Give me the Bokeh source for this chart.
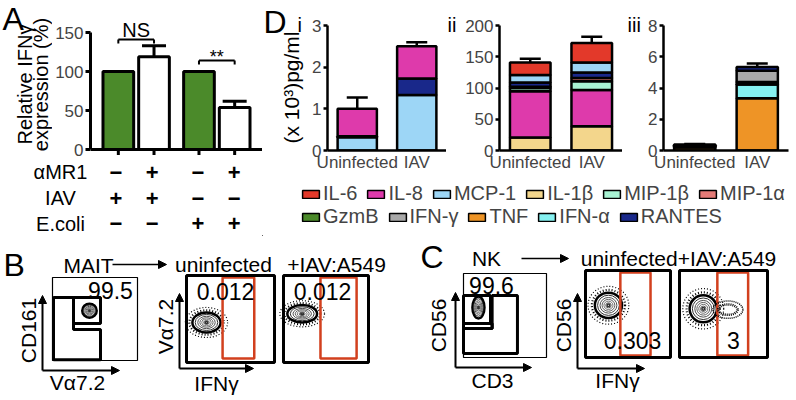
import numpy as np
from bokeh.plotting import figure
from bokeh.models import (FactorRange, Range1d, ColumnDataSource, Arrow, NormalHead, Span,
                          Legend, LegendItem, FixedTicker, Whisker, TeeHead)
from bokeh.layouts import row, column
from bokeh.embed import file_html
from bokeh.resources import INLINE
from bokeh.core.properties import value, field

FONT = "Liberation Sans"

# ---------------- Panel A data ----------------
a_groups = ["IAV", "IAV", "E.coli", "E.coli"]
a_mr1 = ["\u2212", "+", "\u2212", "+"]
a_values = [100, 119, 100, 54]
a_errors = [0, 14, 0, 8]
a_fill = ["#4b8a2a", "#ffffff", "#4b8a2a", "#ffffff"]
a_yticks = [0, 50, 100, 150]
a_ylabel = ["Relative IFN\u03b3", "expression (%)"]
a_rows = ["\u03b1MR1", "IAV", "E.coli"]
a_row_signs = [["\u2212", "+", "\u2212", "+"],
               ["+", "+", "\u2212", "\u2212"],
               ["\u2212", "\u2212", "+", "+"]]
a_sig_text = ["NS", "**"]
a_sig_size = ["20px", "18px"]
a_sig_left = [0, 2]
a_sig_right = [1, 3]
a_sig_y = [141, 114]
a_sig_text_y = [153, 119]

# ---------------- Panel D data ----------------
d_conditions = ["Uninfected", "IAV"]
di_names = ["MCP-1", "RANTES", "IL-8"]                 # x10^3 pg/ml, bottom -> top
di_vals = [[0.32, 0.02, 0.66], [1.33, 0.40, 0.77]]
di_errs = [[0.05, 0.02, 0.27], [0.32, 0.31, 0.10]]
dii_names = ["IL-1\u03b2", "IL-8", "MIP-1\u03b2", "MIP-1\u03b1", "RANTES", "MCP-1", "IL-6"]
dii_vals = [[21, 74, 5, 2, 7, 12, 20], [39, 58, 14, 5, 9, 16, 31]]
dii_errs = [[12, 3, 2, 2, 3, 9, 6], [12, 4, 3, 3, 4, 14, 10]]
diii_names = ["TNF", "IFN-\u03b1", "GzmB", "IFN-\u03b3", "RANTES"]
diii_vals = [[0.20, 0.05, 0.03, 0.05, 0.05], [3.34, 0.89, 0.15, 0.72, 0.25]]
diii_errs = [[0.03, 0.02, 0.02, 0.02, 0.03], [0.85, 0.70, 0.10, 0.12, 0.22]]
di_ticks = [0, 1, 2, 3]
dii_ticks = [0, 50, 100, 150, 200]
diii_ticks = [0, 2, 4, 6, 8]
d_ylabel = "(x 10\u00b3)pg/ml"

colors = {"IL-6": "#e3392a", "IL-8": "#de3aab", "MCP-1": "#9dd6f6", "IL-1\u03b2": "#f3d68c",
          "MIP-1\u03b2": "#a8f3d3", "MIP-1\u03b1": "#e57b77", "GzmB": "#4b8a2a",
          "IFN-\u03b3": "#a8a8a8", "TNF": "#ee9426", "IFN-\u03b1": "#85f1f1", "RANTES": "#19288a"}
leg_row1 = ["IL-6", "IL-8", "MCP-1", "IL-1\u03b2", "MIP-1\u03b2", "MIP-1\u03b1"]
leg_row2 = ["GzmB", "IFN-\u03b3", "TNF", "IFN-\u03b1", "RANTES"]

# ---------------- Flow data (axis fraction units) ----------------
flow_pop_x = [0.435, 0.227, 0.22, 0.18, 0.27, 0.27]
flow_pop_y = [0.60, 0.46, 0.56, 0.595, 0.60, 0.56]
flow_pop_w = [0.17, 0.32, 0.35, 0.145, 0.32, 0.31]
flow_pop_h = [0.17, 0.23, 0.20, 0.26, 0.29, 0.31]
flow_pct = ["99.5", "0.012", "0.012", "99.6", "0.303", "3"]


def base_fig(**kw):
    p = figure(output_backend="svg", toolbar_location=None, title=None, **kw)
    p.outline_line_color = None
    p.grid.visible = False
    p.frame_align = False
    return p


def text_fig(x0, x1, y0, y1):
    """A blank figure whose data units are the page pixels of its own area."""
    return base_fig(width=x1 - x0, height=y1 - y0, x_range=Range1d(x0, x1),
                    y_range=Range1d(y1, y0), x_axis_location=None, y_axis_location=None,
                    min_border=0)


def texts(p, xs, ys, tx, size, angle=0.0, align="center", style="normal"):
    p.text(x=xs, y=ys, text=tx, text_font=value(FONT), text_font_size=size,
           text_align=align, text_baseline="middle", angle=angle, text_font_style=style)


def style_axis(ax, size="17px", lw=3):
    ax.axis_line_width = lw
    ax.major_tick_line_width = lw
    ax.minor_tick_line_color = None
    ax.major_tick_in = 0
    ax.major_label_text_font = FONT
    ax.major_label_text_font_size = size


# ================= Panel A =================
TOP_H = 236
A1_H = 159
a_factors = list(zip(a_groups, a_mr1))
a_xr = FactorRange(factors=a_factors, factor_padding=0, group_padding=0.26,
                   range_padding=0.28, range_padding_units="absolute")

pA0 = text_fig(0, 52, 0, A1_H)
texts(pA0, [2], [18], ["A"], "32px", align="left")
texts(pA0, [24, 40], [84, 84], a_ylabel, "20px", angle=np.pi / 2)

pA1 = base_fig(width=210, height=A1_H, x_range=a_xr, y_range=Range1d(-10 / 0.78, 149 / 0.78),
               x_axis_location=None, min_border_left=35, min_border_right=0,
               min_border_top=0, min_border_bottom=0)
srcA = ColumnDataSource(dict(x=a_factors, top=a_values, fill=a_fill))
pA1.vbar(x="x", top="top", width=0.86, fill_color="fill", line_color="black",
         line_width=3, source=srcA)
err_idx = [i for i, e in enumerate(a_errors) if e > 0]
srcAe = ColumnDataSource(dict(base=[a_factors[i] for i in err_idx],
                              lower=[a_values[i] for i in err_idx],
                              upper=[a_values[i] + a_errors[i] for i in err_idx]))
pA1.add_layout(Whisker(source=srcAe, base="base", lower="lower", upper="upper",
                       line_width=3, line_color="black", lower_head=None,
                       upper_head=TeeHead(size=24, line_width=3, line_color="black")))
pA1.add_layout(Span(location=0, dimension="width", line_color="black", line_width=3))
pA1.segment(x0=a_factors, y0=[0] * 4, x1=a_factors, y1=[-7] * 4, line_color="black", line_width=3)
ya = pA1.yaxis[0]
style_axis(ya)
ya.ticker = FixedTicker(ticks=a_yticks)
ya.bounds = (0, 150)
ya.major_tick_out = 5
ya.major_label_standoff = 2

bx0, by0, bx1, by1 = [], [], [], []
for l, r, yv in zip(a_sig_left, a_sig_right, a_sig_y):
    for (x0, y0, x1, y1) in ((a_factors[l], yv, a_factors[r], yv),
                             (a_factors[l], yv, a_factors[l], yv - 5),
                             (a_factors[r], yv, a_factors[r], yv - 5)):
        bx0.append(x0); by0.append(y0); bx1.append(x1); by1.append(y1)
pA1.segment(x0=bx0, y0=by0, x1=bx1, y1=by1, line_color="black", line_width=2)
srcSig = ColumnDataSource(dict(x=[a_factors[l] + (0.5,) for l in a_sig_left], y=a_sig_text_y,
                               text=a_sig_text, size=a_sig_size))
pA1.text(x="x", y="y", text="text", text_font_size=field("size"), source=srcSig,
         text_font=value(FONT), text_align="center", text_baseline="middle")

pA2L = text_fig(0, 87, A1_H, TOP_H)
row_h = (TOP_H - A1_H) / len(a_rows)
texts(pA2L, [60] * 3, [A1_H + row_h * (i + 0.5) for i in range(3)], a_rows, "20px")

pA2R = base_fig(width=175, height=TOP_H - A1_H, x_range=a_xr,
                y_range=FactorRange(*reversed(a_rows)),
                x_axis_location=None, y_axis_location=None, min_border=0)
sx, sy, st = [], [], []
for rname, signs in zip(a_rows, a_row_signs):
    for f, s in zip(a_factors, signs):
        sx.append(f); sy.append(rname); st.append(s)
pA2R.text(x=sx, y=sy, text=st, text_font=value(FONT), text_font_size="22px",
          text_font_style="bold", text_align="center", text_baseline="middle")

colA = column(row(pA0, pA1), row(pA2L, pA2R))


# ================= Panel D =================
D_H = 174
def make_d(names, vals, errs, ticks, width, left, right):
    ymax = ticks[-1]
    p = base_fig(width=width, height=D_H, x_range=FactorRange(*d_conditions),
                 y_range=Range1d(0, ymax), min_border_left=left, min_border_right=right,
                 min_border_top=25, min_border_bottom=D_H - 151)
    data = {"x": d_conditions}
    for j, n in enumerate(names):
        data[n] = [vals[c][j] for c in range(len(d_conditions))]
    src = ColumnDataSource(data)
    p.vbar_stack(names, x="x", width=0.66, fill_color=[colors[n] for n in names],
                 line_color="black", line_width=2.5, source=src)
    xs, lo, up = [], [], []
    for ci, c in enumerate(d_conditions):
        cum = np.cumsum(vals[ci])
        for j in range(len(names)):
            xs.append(c); lo.append(float(cum[j])); up.append(float(cum[j] + errs[ci][j]))
    p.add_layout(Whisker(source=ColumnDataSource(dict(base=xs, lower=lo, upper=up)),
                         base="base", lower="lower", upper="upper", line_width=2.5,
                         line_color="black", lower_head=None,
                         upper_head=TeeHead(size=21, line_width=2.5, line_color="black")))
    y = p.yaxis[0]
    style_axis(y, lw=2.5)
    y.ticker = FixedTicker(ticks=ticks)
    y.bounds = (0, ymax)
    y.major_tick_out = 4
    y.major_label_standoff = 2
    x = p.xaxis[0]
    style_axis(x, lw=2.5)
    x.major_tick_out = 0
    x.major_label_standoff = 2
    return p

pD0 = text_fig(262, 309, 0, D_H)
texts(pD0, [263], [21], ["D"], "32px", align="left")
texts(pD0, [297], [24], ["i"], "20px", align="left")
texts(pD0, [291], [87], [d_ylabel], "21px", angle=np.pi / 2)
pDi = make_d(di_names, di_vals, di_errs, di_ticks, 137, 16, 0)
pDg1 = text_fig(446, 462, 0, D_H)
texts(pDg1, [447], [24], ["ii"], "20px", align="left")
pDii = make_d(dii_names, dii_vals, dii_errs, dii_ticks, 160, 34, 0)
pDg2 = text_fig(622, 645, 0, D_H)
texts(pDg2, [627], [24], ["iii"], "20px", align="left")
pDiii = make_d(diii_names, diii_vals, diii_errs, diii_ticks, 151, 16, 8)

pL = base_fig(width=534, height=TOP_H - D_H, x_range=Range1d(0, 1), y_range=Range1d(0, 1),
              x_axis_location=None, y_axis_location=None, min_border=0)
rends = {n: pL.vbar(x=[-5], bottom=[-6], top=[-5], width=1, fill_color=c, line_color="black",
                    line_width=1.5)
         for n, c in colors.items()}
for names, loc in ((leg_row1, (38, 31)), (leg_row2, (38, 8))):
    leg = Legend(items=[LegendItem(label=n, renderers=[rends[n]]) for n in names],
                 location=loc, orientation="horizontal", padding=0, margin=0, spacing=8,
                 glyph_width=21, glyph_height=10, label_standoff=2, label_height=20,
                 label_text_font=FONT, label_text_font_size="20px",
                 border_line_color=None, background_fill_alpha=0)
    pL.add_layout(leg)

colD = column(row(pD0, pDi, pDg1, pDii, pDg2, pDiii), pL)


# ================= Panels B & C (flow) =================
def flow_plot(p, idx, box, thick, gates_poly, gates_red, halo=True):
    L, R, B, T = box
    sub = p.subplot(x_source=Range1d(0, 1), y_source=Range1d(0, 1),
                    x_target=Range1d(L, R), y_target=Range1d(B, T))
    cx, cy, w, h = flow_pop_x[idx], flow_pop_y[idx], flow_pop_w[idx], flow_pop_h[idx]
    if halo:
        sub.ellipse(x=[cx, cx], y=[cy, cy], width=[w * 1.5, w * 1.22], height=[h * 1.5, h * 1.22],
                    fill_color=None, line_color="black", line_width=[1.2, 2.2],
                    line_dash="1 2")
    levels = [1.0, 0.8, 0.62, 0.47, 0.33, 0.2, 0.1]
    shades = ["#000000", "#303030", "#505050", "#606060", "#707070", "#606060", "#303030"]
    widths = [2.5, 1, 1, 1, 1, 1, 1.5]
    sub.ellipse(x=[cx] * len(levels), y=[cy] * len(levels), width=[w * l for l in levels],
                height=[h * l for l in levels], fill_color=None, line_color=shades,
                line_width=widths)
    for poly in gates_poly:
        sub.patch(x=[q[0] for q in poly], y=[q[1] for q in poly], fill_color=None,
                  line_color="black", line_width=3)
    for (x0, x1, y0, y1) in gates_red:
        sub.quad(left=[x0], right=[x1], bottom=[y0], top=[y1], fill_color=None,
                 line_color="#d2401e", line_width=2.5)
    sub.quad(left=[0], right=[1], bottom=[0], top=[1], fill_color=None,
             line_color="black", line_width=thick)
    return sub


def arrow(p, x0, y0, x1, y1, lw=2):
    p.add_layout(Arrow(x_start=x0, y_start=y0, x_end=x1, y_end=y1, line_width=lw,
                       end=NormalHead(size=8, fill_color="black", line_color="black")))


pB = text_fig(0, 412, TOP_H, 400)
flow_plot(pB, 0, (52, 137, 360, 277), 1.2,
          [[(0.247, 0.446), (0.565, 0.446), (0.565, 0.759), (0.247, 0.759)],
           [(0.012, 0.759), (0.247, 0.759), (0.247, 0.373), (0.565, 0.373), (0.565, 0.01), (0.012, 0.01)]],
          [], halo=False)
flow_plot(pB, 1, (186, 274, 362, 275), 3, [], [(0.41, 0.77, 0.046, 0.977)])
flow_plot(pB, 2, (283, 368, 362, 275), 3, [], [(0.435, 0.86, 0.046, 0.977)])
texts(pB, [3], [264], ["B"], "32px", align="left")
texts(pB, [88, 223, 336], [265, 264, 264], ["MAIT", "uninfected", "+IAV:A549"], "21px")
texts(pB, [110, 225, 322], [290, 291, 291], flow_pct[0:3], "23px")
texts(pB, [77, 216], [382, 383], ["V\u03b17.2", "IFN\u03b3"], "21px")
texts(pB, [28, 165], [330, 326], ["CD161", "V\u03b17.2"], "21px", angle=np.pi / 2)
arrow(pB, 112, 264, 166, 264, 1.5)
arrow(pB, 42, 370, 42, 295)
arrow(pB, 42, 370, 119, 370)
arrow(pB, 179, 368, 179, 293)
arrow(pB, 179, 368, 253, 368)

pC = text_fig(412, 796, TOP_H, 400)
flow_plot(pC, 3, (463, 546, 357, 273), 1.2,
          [[(0.0, 0.405), (0.325, 0.405), (0.325, 0.738), (0.0, 0.738)],
           [(0.0, 0.345), (0.345, 0.345), (0.345, 0.405), (0.0, 0.405)],
           [(0.345, 0.738), (0.65, 0.738), (0.65, 0.048), (0.0, 0.048), (0.0, 0.345), (0.345, 0.345)]],
          [], halo=False)
flow_plot(pC, 4, (585, 670, 357, 270), 3, [], [(0.41, 0.765, 0.023, 0.977)])
s3 = flow_plot(pC, 5, (679, 767, 357, 270), 3, [], [(0.43, 0.78, 0.023, 0.977)])
s3.ellipse(x=[0.55, 0.55], y=[0.55, 0.55], width=[0.34, 0.22], height=[0.2, 0.12],
           fill_color=None, line_color="black", line_width=[1.5, 2.5], line_dash="1 1")
texts(pC, [420], [256], ["C"], "32px", align="left")
texts(pC, [486, 678], [258, 258], ["NK", "uninfected+IAV:A549"], "21px")
texts(pC, [491, 632, 733], [285, 340, 340], flow_pct[3:6], "23px")
texts(pC, [492, 617], [380, 380], ["CD3", "IFN\u03b3"], "21px")
texts(pC, [438, 563], [325, 325], ["CD56", "CD56"], "21px", angle=np.pi / 2)
arrow(pC, 521, 258, 568, 258, 1.5)
arrow(pC, 455, 367, 455, 292)
arrow(pC, 455, 367, 531, 367)
arrow(pC, 577, 368, 577, 293)
arrow(pC, 577, 368, 644, 368)

layout = column(row(colA, colD), row(pB, pC))
open("out.html", "w").write(file_html(layout, INLINE))
